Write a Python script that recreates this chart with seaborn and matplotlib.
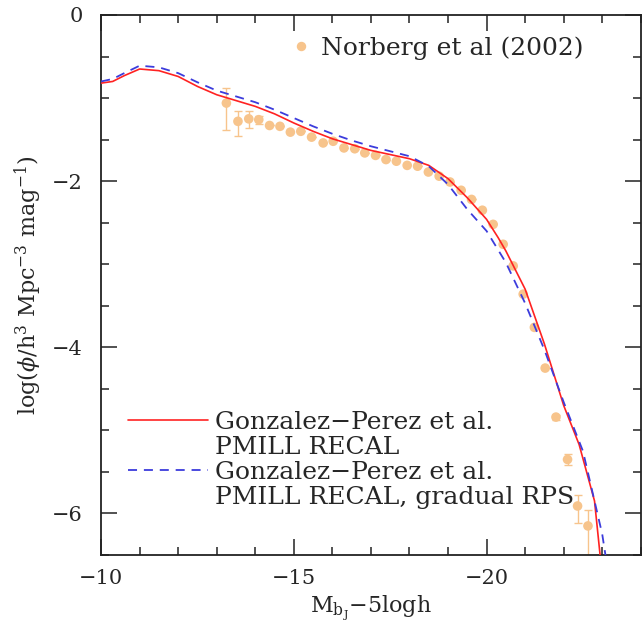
import matplotlib
matplotlib.use("Agg")
import matplotlib.pyplot as plt
from matplotlib.lines import Line2D
from matplotlib.ticker import MultipleLocator
import pandas as pd
import seaborn as sns

# Model luminosity functions (log phi vs magnitude)
mag_recal = [-10.0, -10.3, -10.6, -11.0, -11.5, -12.0, -12.5, -13.0, -13.5, -14.0,
             -14.5, -15.0, -15.5, -16.0, -16.5, -17.0, -17.5, -18.0, -18.5, -19.0,
             -19.5, -20.0, -20.3, -20.5, -21.0, -21.5, -22.0, -22.4, -22.8, -23.0]
phi_recal = [-0.82, -0.80, -0.73, -0.65, -0.67, -0.74, -0.86, -0.96, -1.03, -1.10,
             -1.19, -1.30, -1.40, -1.49, -1.56, -1.63, -1.68, -1.73, -1.81, -1.97,
             -2.20, -2.46, -2.68, -2.84, -3.30, -3.96, -4.70, -5.17, -5.85, -6.75]

mag_rps = [-10.0, -10.3, -10.6, -11.0, -11.5, -12.0, -12.5, -13.0, -13.5, -14.0,
           -14.5, -15.0, -15.5, -16.0, -16.5, -17.0, -17.5, -18.0, -18.5, -19.0,
           -19.5, -20.0, -20.5, -21.0, -21.5, -22.0, -22.5, -23.0, -23.15]
phi_rps = [-0.80, -0.77, -0.70, -0.61, -0.63, -0.70, -0.81, -0.91, -0.98, -1.05,
           -1.14, -1.24, -1.34, -1.43, -1.51, -1.58, -1.64, -1.70, -1.82, -2.04,
           -2.34, -2.60, -2.98, -3.47, -4.03, -4.66, -5.25, -6.25, -6.70]

# Norberg et al (2002) 2dFGRS bJ luminosity function
mag_obs = [-13.25, -13.55, -13.83, -14.09, -14.37, -14.64, -14.91, -15.18, -15.46,
           -15.76, -16.02, -16.30, -16.58, -16.84, -17.12, -17.39, -17.66, -17.94,
           -18.21, -18.49, -18.77, -19.05, -19.34, -19.61, -19.89, -20.17, -20.43,
           -20.69, -20.95, -21.24, -21.52, -21.80, -22.10, -22.36, -22.63]
phi_obs = [-1.06, -1.28, -1.25, -1.26, -1.33, -1.34, -1.41, -1.40, -1.47,
           -1.54, -1.52, -1.60, -1.61, -1.66, -1.69, -1.74, -1.76, -1.81,
           -1.82, -1.89, -1.94, -2.01, -2.11, -2.22, -2.35, -2.52, -2.76,
           -3.02, -3.36, -3.76, -4.25, -4.84, -5.35, -5.91, -6.15]
err_lo = [0.32, 0.18, 0.11, 0.05, 0, 0, 0, 0, 0,
          0, 0, 0, 0, 0, 0, 0, 0, 0,
          0, 0, 0, 0, 0, 0, 0, 0, 0,
          0, 0, 0, 0, 0.03, 0.07, 0.21, 0.60]
err_hi = [0.18, 0.12, 0.09, 0.04, 0, 0, 0, 0, 0,
          0, 0, 0, 0, 0, 0, 0, 0, 0,
          0, 0, 0, 0, 0, 0, 0, 0, 0,
          0, 0, 0, 0, 0.03, 0.06, 0.13, 0.19]

x_ticks = [-10, -15, -20]
y_ticks = [0, -2, -4, -6]

sns.set_style("ticks")
plt.rcParams["font.family"] = ["DejaVu Serif"]
plt.rcParams["mathtext.fontset"] = "dejavuserif"

ORANGE = "#F7C48C"
RED = "#FF2222"
BLUE = "#3C3CDC"
FS_TICK = 15
FS_LABEL = 16
FS_LEG = 18

fig = plt.figure(figsize=(6.44, 6.25), dpi=100)
ax = fig.add_axes([0.157, 0.112, 0.838, 0.864])

df_obs = pd.DataFrame({"mag": mag_obs, "phi": phi_obs})
ax.errorbar(mag_obs, phi_obs, yerr=[err_lo, err_hi], fmt="none",
            ecolor=ORANGE, elinewidth=1.0, capsize=2.9, capthick=1.0, zorder=2)
sns.scatterplot(data=df_obs, x="mag", y="phi", ax=ax, color=ORANGE, s=48,
                edgecolor="none", linewidth=0, zorder=3, legend=False)

df_recal = pd.DataFrame({"mag": mag_recal, "phi": phi_recal})
df_rps = pd.DataFrame({"mag": mag_rps, "phi": phi_rps})
sns.lineplot(data=df_recal, x="mag", y="phi", ax=ax, color=RED, lw=1.2,
             sort=False, zorder=4, legend=False)
sns.lineplot(data=df_rps, x="mag", y="phi", ax=ax, color=BLUE, lw=1.3,
             sort=False, zorder=5, legend=False, dashes=False)
ax.lines[-1].set_dashes((5, 3.8))

ax.set_xlim(-10, -24)
ax.set_ylim(-6.5, 0)
ax.set_xticks(x_ticks)
ax.set_yticks(y_ticks)
ax.xaxis.set_minor_locator(MultipleLocator(1))
ax.yaxis.set_minor_locator(MultipleLocator(0.5))
ax.set_xticklabels([f"\u2212{abs(v)}" if v < 0 else str(v) for v in x_ticks])
ax.set_yticklabels([f"\u2212{abs(v)}" if v < 0 else str(v) for v in y_ticks])
ax.tick_params(which="both", direction="in", top=True, right=True,
               labelsize=FS_TICK, width=1.1, color="#222222")
ax.tick_params(axis="x", which="both", pad=10)
ax.tick_params(axis="y", which="both", pad=13)
ax.tick_params(which="major", length=11.5)
ax.tick_params(which="minor", length=5.8)
for sp in ax.spines.values():
    sp.set_linewidth(1.3)
    sp.set_color("#222222")

ax.set_xlabel("M$_{\\mathrm{b_J}}$\u22125logh", fontsize=FS_LABEL, labelpad=4)
ax.set_ylabel("log($\\phi$/h$^3$ Mpc$^{-3}$ mag$^{-1}$)", fontsize=FS_LABEL,
              labelpad=6)

# Model legend (lower left)
h_red = Line2D([], [], color=RED, lw=1.2)
h_blue = Line2D([], [], color=BLUE, lw=1.3, dashes=(5, 3.8))
h_none = Line2D([], [], color="none")
leg1 = ax.legend([h_red, h_none, h_blue, h_none],
                 ["Gonzalez\u2212Perez et al.", "PMILL RECAL",
                  "Gonzalez\u2212Perez et al.", "PMILL RECAL, gradual RPS"],
                 loc="upper left", bbox_to_anchor=(0.05, 0.267), frameon=False,
                 fontsize=FS_LEG, handlelength=3.2, handletextpad=0.28,
                 labelspacing=0.08, borderaxespad=0, borderpad=0)
ax.add_artist(leg1)

# Data legend (upper right)
h_obs = Line2D([], [], color=ORANGE, marker="o", ms=6.8, mec="none", ls="none")
ax.legend([h_obs], ["Norberg et al (2002)"], loc="upper right",
          bbox_to_anchor=(0.893, 0.960), frameon=False, fontsize=FS_LEG,
          handlelength=0.6, handletextpad=0.5, borderaxespad=0, borderpad=0)

fig.savefig("out.png", dpi=100)
